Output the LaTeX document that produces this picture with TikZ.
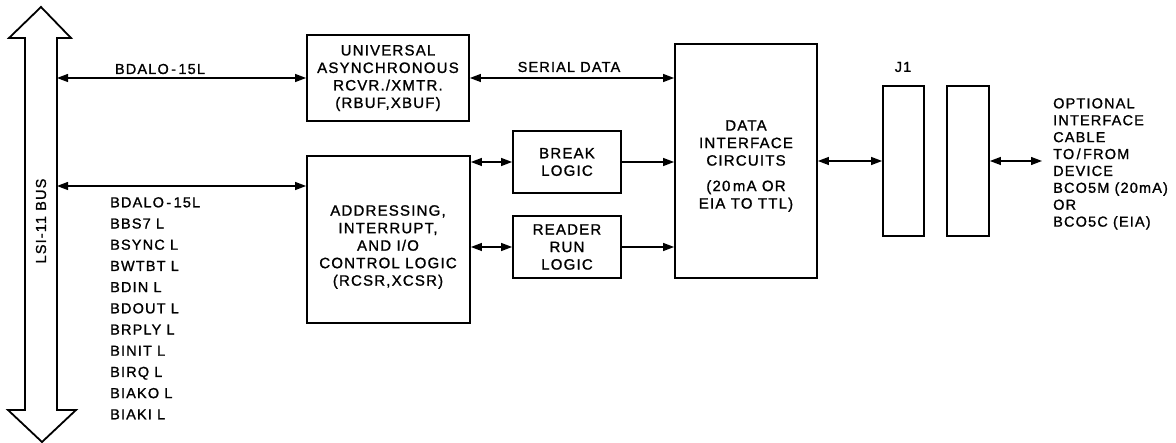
\documentclass[tikz,border=0pt]{standalone}
\usepackage{fontspec}
\setmainfont{Liberation Sans}[LetterSpace=8,FakeBold=1.2]
\usetikzlibrary{arrows.meta}
\begin{document}
\begin{tikzpicture}[x=1pt,y=-1pt,
  box/.style={draw,line width=1.8pt,inner sep=0pt,align=center,font=\fontsize{15}{17.5}\selectfont},
  lab/.style={inner sep=0pt,font=\fontsize{14.5}{17}\selectfont},
  wire/.style={line width=1.2pt},
  dbl/.style={wire,{Triangle[length=11pt,width=8pt]}-{Triangle[length=11pt,width=8pt]}},
  sgl/.style={wire,-{Triangle[length=11pt,width=8pt]}}]
\useasboundingbox (0,0) rectangle (1176,443);
% bus arrow
\draw[line width=1.8pt,line join=miter] (41,7) -- (71,38) -- (57,38) -- (57,410) -- (76,410) -- (42,442) -- (8,410) -- (25,410) -- (25,38) -- (9,38) -- cycle;
\node[lab,rotate=90] (busl) at (41,221) {LSI-11 BUS};
\coordinate (b1) at (57,78);
\coordinate (b2) at (57,186);
% boxes
\node[box,minimum width=162pt,minimum height=86pt] (uart) at (388,78) {UNIVERSAL\\ASYNCHRONOUS\\RCVR./XMTR.\\(RBUF,XBUF)};
\node[box,minimum width=163pt,minimum height=167pt] (addr) at (388.5,239.5) {};
\node[lab,align=center,font=\fontsize{15}{17.5}\selectfont] (addrt) at (388,247) {ADDRESSING,\\INTERRUPT,\\AND I/O\\CONTROL LOGIC\\(RCSR,XCSR)};
\node[box,minimum width=108pt,minimum height=62pt] (brk) at (567,162) {BREAK\\LOGIC};
\node[box,minimum width=108pt,minimum height=62pt] (rdr) at (567,247) {READER\\RUN\\LOGIC};
\node[box,minimum width=142pt,minimum height=234pt] (dic) at (746,161) {};
\node[lab,align=center,font=\fontsize{15}{17.5}\selectfont] (dict) at (746,166) {DATA\\INTERFACE\\CIRCUITS\\[8pt](20\,mA OR\\EIA TO TTL)};
\node[box,minimum width=41pt,minimum height=150pt] (ja) at (903.5,161) {};
\node[box,minimum width=42pt,minimum height=150pt] (jb) at (968,161) {};
\node[lab] (j1) at (903,67) {J1};
\coordinate (cab) at (1042,161);
% labels
\node[lab] (l1) at (160,69) {BDALO\,-\,15L};
\node[lab] (ser) at (569,67) {SERIAL DATA};
\node[lab,align=left,anchor=north west,font=\fontsize{14.5}{21.2}\selectfont] (sig) at (110,197) {BDALO\,-\,15L\\BBS7 L\\BSYNC L\\BWTBT L\\BDIN L\\BDOUT L\\BRPLY L\\BINIT L\\BIRQ L\\BIAKO L\\BIAKI L};
\node[lab,align=left,anchor=north west,font=\fontsize{14.5}{16.9}\selectfont] (cabt) at (1053,98) {OPTIONAL\\INTERFACE\\CABLE\\TO\,/\,FROM\\DEVICE\\BCO5M (20mA)\\OR\\BCO5C (EIA)};
% connectors
\draw[dbl] (b1) -- (uart.west);
\draw[dbl] (b2) -- (addr.west |- b2);
\draw[dbl] (uart.east) -- (dic.west |- uart.east);
\draw[dbl] (addr.east |- brk) -- (brk.west);
\draw[dbl] (addr.east |- rdr) -- (rdr.west);
\draw[sgl] (brk.east) -- (dic.west |- brk.east);
\draw[sgl] (rdr.east) -- (dic.west |- rdr.east);
\draw[dbl] (dic.east) -- (ja.west);
\draw[dbl] (jb.east) -- (cab);
\end{tikzpicture}
\end{document}
